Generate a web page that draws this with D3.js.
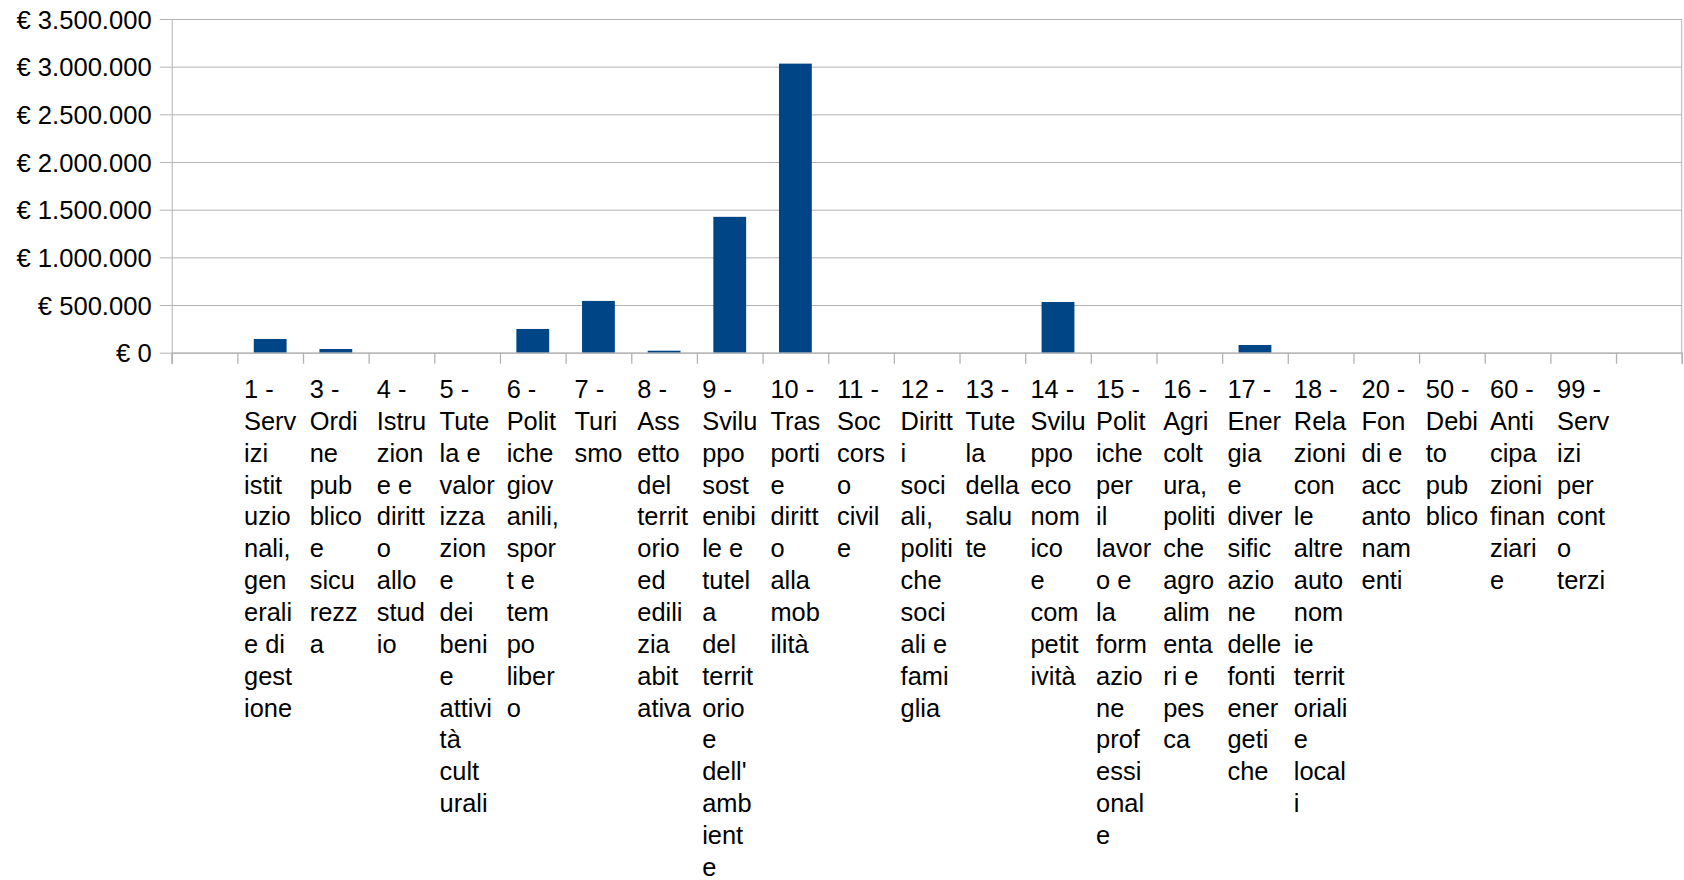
<!DOCTYPE html>
<html>
<head>
<meta charset="utf-8">
<script src="https://cdn.jsdelivr.net/npm/d3@7"></script>
<style>
  body { margin: 0; background: #fff; }
  svg text { font-family: "Liberation Sans", Arial, sans-serif; fill: #000; }
</style>
</head>
<body>
<div id="chart"></div>
<script>
// categories (already wrapped the way the original chart wraps them)
var categories = [
  [],
  ["1 -", "Serv", "izi", "istit", "uzio", "nali,", "gen", "erali", "e di", "gest", "ione"],
  ["3 -", "Ordi", "ne", "pub", "blico", "e", "sicu", "rezz", "a"],
  ["4 -", "Istru", "zion", "e e", "diritt", "o", "allo", "stud", "io"],
  ["5 -", "Tute", "la e", "valor", "izza", "zion", "e", "dei", "beni", "e", "attivi", "tà", "cult", "urali"],
  ["6 -", "Polit", "iche", "giov", "anili,", "spor", "t e", "tem", "po", "liber", "o"],
  ["7 -", "Turi", "smo"],
  ["8 -", "Ass", "etto", "del", "territ", "orio", "ed", "edili", "zia", "abit", "ativa"],
  ["9 -", "Svilu", "ppo", "sost", "enibi", "le e", "tutel", "a", "del", "territ", "orio", "e", "dell'", "amb", "ient", "e"],
  ["10 -", "Tras", "porti", "e", "diritt", "o", "alla", "mob", "ilità"],
  ["11 -", "Soc", "cors", "o", "civil", "e"],
  ["12 -", "Diritt", "i", "soci", "ali,", "politi", "che", "soci", "ali e", "fami", "glia"],
  ["13 -", "Tute", "la", "della", "salu", "te"],
  ["14 -", "Svilu", "ppo", "eco", "nom", "ico", "e", "com", "petit", "ività"],
  ["15 -", "Polit", "iche", "per", "il", "lavor", "o e", "la", "form", "azio", "ne", "prof", "essi", "onal", "e"],
  ["16 -", "Agri", "colt", "ura,", "politi", "che", "agro", "alim", "enta", "ri e", "pes", "ca"],
  ["17 -", "Ener", "gia", "e", "diver", "sific", "azio", "ne", "delle", "fonti", "ener", "geti", "che"],
  ["18 -", "Rela", "zioni", "con", "le", "altre", "auto", "nom", "ie", "territ", "oriali", "e", "local", "i"],
  ["20 -", "Fon", "di e", "acc", "anto", "nam", "enti"],
  ["50 -", "Debi", "to", "pub", "blico"],
  ["60 -", "Anti", "cipa", "zioni", "finan", "ziari", "e"],
  ["99 -", "Serv", "izi", "per", "cont", "o", "terzi"],
  []
];

// values in euro, one per category (null = empty slot)
var values = [null, 144000, 39000, 0, 0, 249000, 543000, 21000, 1425000, 3032000,
  0, 0, 0, 532000, 0, 0, 81000, 0, 0, 0, 0, 0, null];

var yTicks = [0, 500000, 1000000, 1500000, 2000000, 2500000, 3000000, 3500000];

var W = 1684, H = 880;
var margin = {top: 19, right: 2.3, bottom: 527.3, left: 171.7};
var width = W - margin.left - margin.right,
    height = H - margin.top - margin.bottom;

var euro = d3.formatLocale({decimal: ",", thousands: ".", grouping: [3], currency: ["€ ", ""]}).format("$,.0f");

var svg = d3.select("#chart").append("svg")
    .attr("width", W)
    .attr("height", H)
  .append("g")
    .attr("transform", "translate(" + margin.left + "," + margin.top + ")");

var idx = d3.range(categories.length);

var x = d3.scaleBand().domain(idx).range([0, width]).paddingInner(0.5).paddingOuter(0.25);
var xEdge = d3.scaleLinear().domain([0, categories.length]).range([0, width]);
var y = d3.scaleLinear().domain([0, 3500000]).range([height, 0]);

// gridlines
svg.append("g")
    .call(d3.axisLeft(y).tickValues(yTicks).tickSize(-width).tickFormat(""))
    .call(function(g) {
      g.select(".domain").remove();
      g.selectAll("line").attr("stroke", "#b3b3b3");
    });

// y axis with labels
svg.append("g")
    .call(d3.axisLeft(y).tickValues(yTicks).tickSize(12).tickPadding(8).tickFormat(euro))
    .call(function(g) {
      g.select(".domain").attr("stroke", "#b3b3b3").attr("d", "M0.5," + (height + 11) + "V0");
      g.selectAll("line").attr("stroke", "#b3b3b3");
      g.selectAll("text").style("font-size", "25.6px").attr("dy", "0.36em");
    });

// right border
svg.append("line")
    .attr("x1", width).attr("x2", width)
    .attr("y1", 0).attr("y2", height)
    .attr("stroke", "#b3b3b3");

// bars
svg.selectAll(".bar")
    .data(idx.filter(function(i) { return values[i] > 0; }))
  .enter().append("rect")
    .attr("class", "bar")
    .attr("x", function(i) { return x(i); })
    .attr("width", x.bandwidth())
    .attr("y", function(i) { return y(values[i]); })
    .attr("height", function(i) { return height - y(values[i]); })
    .attr("fill", "#004586");

// x axis: ticks at category boundaries
svg.append("g")
    .attr("transform", "translate(0," + height + ")")
    .call(d3.axisBottom(xEdge).tickValues(d3.range(categories.length + 1)).tickSize(11).tickFormat(""))
    .call(function(g) {
      g.selectAll("line, .domain").attr("stroke", "#b3b3b3").attr("stroke-width", 1.3);
    });

// category labels, block centered in slot, lines left aligned
var labels = svg.append("g").attr("transform", "translate(0," + (height + 45.3) + ")");
idx.forEach(function(i) {
  var lines = categories[i];
  if (!lines.length) return;
  var t = labels.append("text").style("font-size", "25.4px");
  lines.forEach(function(s, k) {
    t.append("tspan").attr("y", k * 31.85).text(s);
  });
  var maxW = 0;
  t.selectAll("tspan").each(function() { maxW = Math.max(maxW, this.getComputedTextLength()); });
  var cx = x(i) + x.bandwidth() / 2;
  t.selectAll("tspan").attr("x", cx - maxW / 2);
});
</script>
</body>
</html>
